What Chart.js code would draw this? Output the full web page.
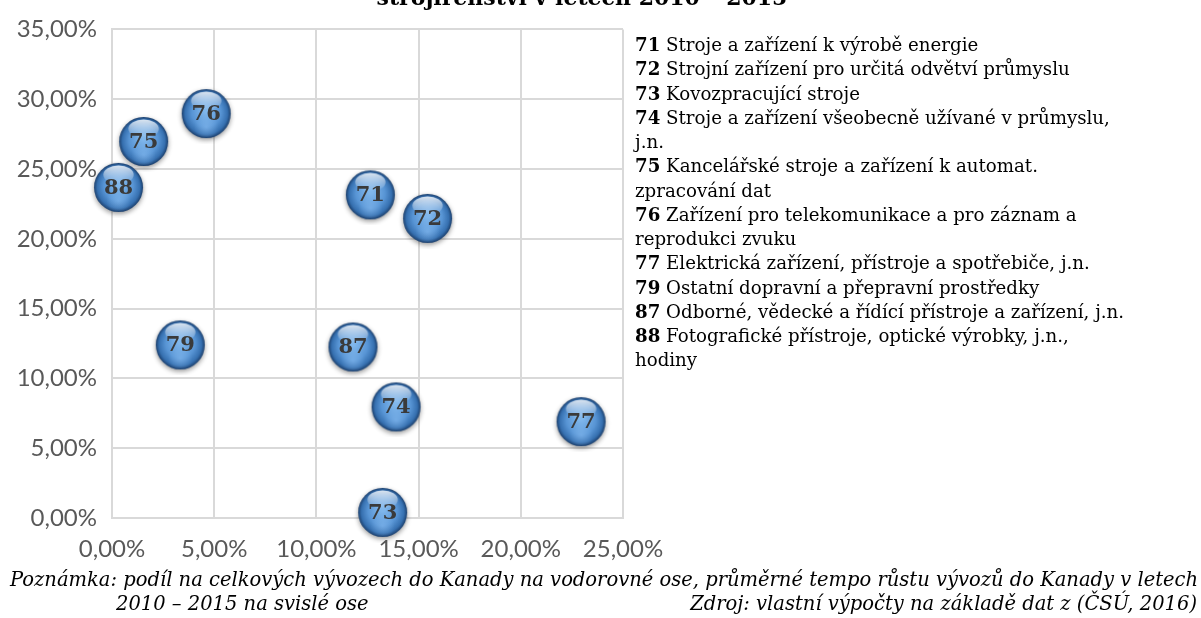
<!DOCTYPE html>
<html>
<head>
<meta charset="utf-8">
<script src="https://cdn.jsdelivr.net/npm/chart.js@4/dist/chart.umd.min.js"></script>
<style>
  html, body { margin: 0; padding: 0; background: #fff; overflow: hidden; }
  #wrap { position: relative; width: 1201px; height: 618px; }
  #chart { position: absolute; left: 0; top: 0; }
  .title { position: absolute; left: 0; width: 1164px; top: -16px; text-align: center;
           font: bold 22px "DejaVu Serif", serif; color: #000; }
  #legend { position: absolute; left: 635px; top: 33px; font: 18.2px "DejaVu Serif", serif;
            line-height: 24.27px; color: #000; white-space: pre-line; }
  #legend b { font-weight: bold; }
  .note { position: absolute; font: italic 19.5px "DejaVu Serif", serif; color: #000; white-space: nowrap; }
</style>
</head>
<body>
<div id="wrap">
  <canvas id="chart" width="1201" height="618"></canvas>
  <div class="title">strojírenství v letech 2010 – 2015</div>
  <div id="legend"></div>
  <div class="note" id="note1" style="left:10px; top:568px;">Poznámka: podíl na celkových vývozech do Kanady na vodorovné ose, průměrné tempo růstu vývozů do Kanady v letech</div>
  <div class="note" id="note2" style="left:116px; top:592px;">2010 – 2015 na svislé ose</div>
  <div class="note" id="note3" style="right:4px; top:592px;">Zdroj: vlastní výpočty na základě dat z (ČSÚ, 2016)</div>
</div>
<script>
// SITC groups
const codes = ["71", "72", "73", "74", "75", "76", "77", "79", "87", "88"];
const names = [
    "Stroje a zařízení k výrobě energie",
    "Strojní zařízení pro určitá odvětví průmyslu",
    "Kovozpracující stroje",
    "Stroje a zařízení všeobecně užívané v průmyslu,\nj.n.",
    "Kancelářské stroje a zařízení k automat.\nzpracování dat",
    "Zařízení pro telekomunikace a pro záznam a\nreprodukci zvuku",
    "Elektrická zařízení, přístroje a spotřebiče, j.n.",
    "Ostatní dopravní a přepravní prostředky",
    "Odborné, vědecké a řídící přístroje a zařízení, j.n.",
    "Fotografické přístroje, optické výrobky, j.n.,\nhodiny"
];
// share of exports to Canada (%) and avg growth 2010-2015 (%)
const shareX = [12.64, 15.44, 13.24, 13.90, 1.55, 4.61, 22.95, 3.34, 11.79, 0.32];
const growthY = [23.15, 21.46, 0.40, 7.96, 26.97, 28.97, 6.90, 12.40, 12.25, 23.68];

const xTicks = [0, 5, 10, 15, 20, 25];
const yTicks = [0, 5, 10, 15, 20, 25, 30, 35];

// legend text
document.getElementById("legend").innerHTML = codes
    .map((c, i) => "<b>" + c + "</b> " + names[i])
    .join("\n");

// glossy sphere used as point style
function makeSphere(r) {
    const size = Math.ceil(r * 2 + 12);
    const cv = document.createElement("canvas");
    cv.width = size; cv.height = size;
    const g = cv.getContext("2d");
    const cx = size / 2, cy = size / 2;
    g.save();
    g.shadowColor = "rgba(0,0,0,0.4)";
    g.shadowBlur = 5;
    g.shadowOffsetY = 2;
    const grad = g.createRadialGradient(cx, cy - r * 0.15, r * 0.1, cx, cy, r);
    grad.addColorStop(0, "#80b7ec");
    grad.addColorStop(0.55, "#5895d5");
    grad.addColorStop(0.85, "#3670b0");
    grad.addColorStop(1, "#1b3f6d");
    g.fillStyle = grad;
    g.beginPath(); g.arc(cx, cy, r, 0, Math.PI * 2); g.fill();
    g.restore();
    // top highlight
    const hl = g.createLinearGradient(0, cy - r * 0.92, 0, cy - r * 0.15);
    hl.addColorStop(0, "rgba(255,255,255,0.85)");
    hl.addColorStop(1, "rgba(255,255,255,0)");
    g.fillStyle = hl;
    g.beginPath(); g.ellipse(cx, cy - r * 0.52, r * 0.62, r * 0.38, 0, 0, Math.PI * 2); g.fill();
    // bottom rim glow
    const rim = g.createRadialGradient(cx, cy + r * 0.55, 0, cx, cy + r * 0.55, r * 0.5);
    rim.addColorStop(0, "rgba(150,200,250,0.45)");
    rim.addColorStop(1, "rgba(150,200,250,0)");
    g.fillStyle = rim;
    g.beginPath(); g.arc(cx, cy, r * 0.95, 0, Math.PI * 2); g.fill();
    return cv;
}
const sphere = makeSphere(24.5);

const fmt = v => v.toFixed(2).replace(".", ",") + "%";

const bubbleLabels = {
    id: "bubbleLabels",
    afterDatasetsDraw(chart) {
        const ctx = chart.ctx;
        const meta = chart.getDatasetMeta(0);
        ctx.save();
        ctx.font = "bold 21px 'DejaVu Serif', serif";
        ctx.fillStyle = "#3a3a3a";
        ctx.textAlign = "center";
        ctx.textBaseline = "middle";
        meta.data.forEach((pt, i) => {
            ctx.fillText(codes[i], pt.x, pt.y + 1);
        });
        ctx.restore();
    }
};

new Chart(document.getElementById("chart").getContext("2d"), {
    type: "bubble",
    data: {
        datasets: [{
            data: shareX.map((x, i) => ({ x: x, y: growthY[i], r: 25 })),
            pointStyle: sphere,
            clip: false
        }]
    },
    options: {
        responsive: false,
        animation: false,
        layout: { padding: { left: 0, top: 21, right: 578, bottom: 55 } },
        plugins: { legend: { display: false }, tooltip: { enabled: false } },
        scales: {
            x: {
                type: "linear", min: 0, max: 25,
                afterBuildTicks: s => { s.ticks = xTicks.map(v => ({ value: v })); },
                afterFit: s => { s.height = 45; },
                grid: { color: "#d9d9d9", lineWidth: 2, drawTicks: false },
                border: { color: "#d9d9d9", width: 2 },
                ticks: { callback: v => fmt(v), color: "#595959", padding: 17, maxRotation: 0,
                         font: { family: "Lato", size: 24 } }
            },
            y: {
                type: "linear", min: 0, max: 35,
                afterBuildTicks: s => { s.ticks = yTicks.map(v => ({ value: v })); },
                afterFit: s => { s.width = 112; },
                grid: { color: "#d9d9d9", lineWidth: 2, drawTicks: false },
                border: { color: "#d9d9d9", width: 2 },
                ticks: { callback: v => fmt(v), color: "#595959", padding: 15,
                         font: { family: "Lato", size: 24 } }
            }
        }
    },
    plugins: [bubbleLabels]
});
</script>
</body>
</html>
